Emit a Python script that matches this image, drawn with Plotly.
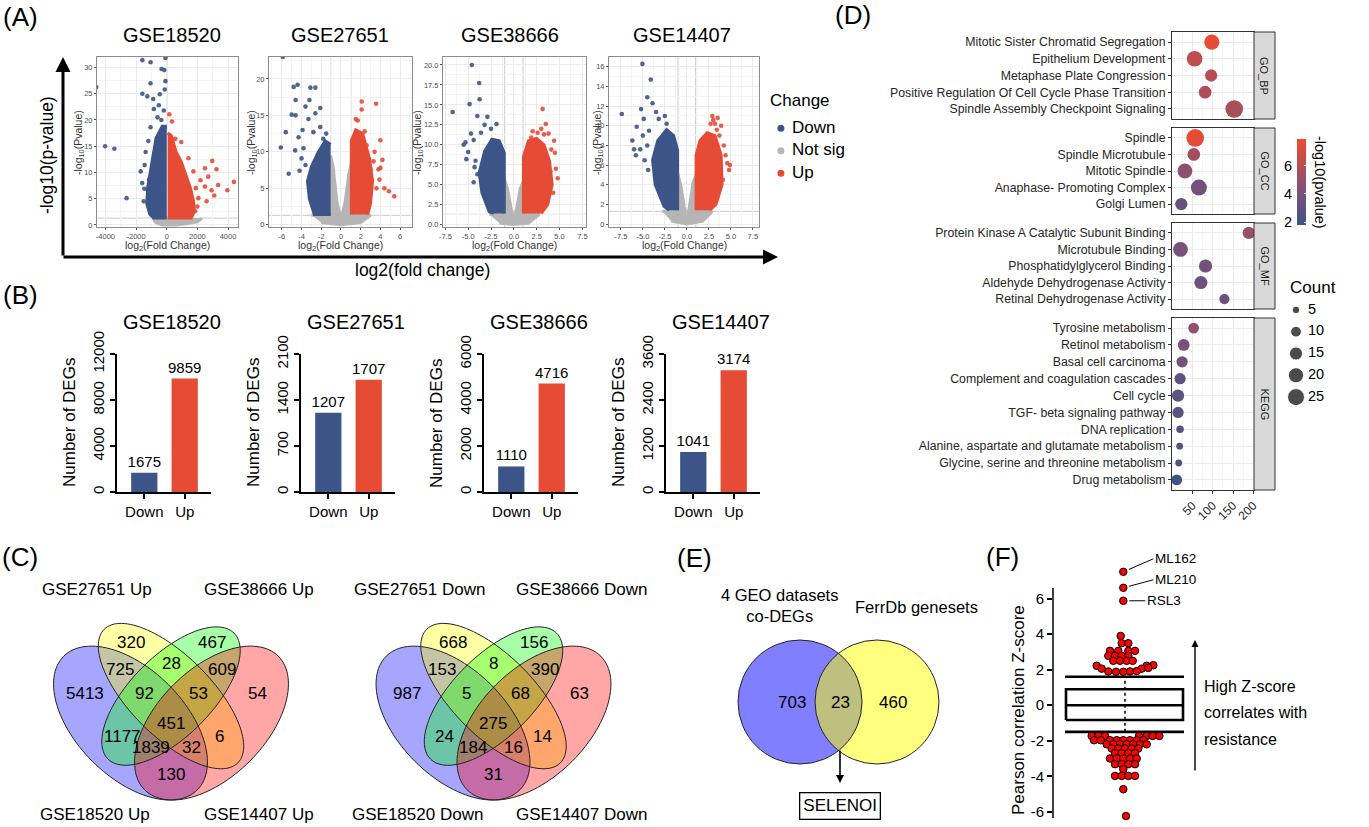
import math
import plotly.graph_objects as go

W, H = 1369, 827
FONT = "Liberation Sans, Arial, Helvetica, sans-serif"
BLUE = "#3C5488"
RED = "#E64B35"
GREY = "#B5B5B5"


def fx(p):
    return p / W


def fy(p):
    return 1 - p / H


# =====================================================================
# DATA
# =====================================================================
DATASETS = ["GSE18520", "GSE27651", "GSE38666", "GSE14407"]
FC_CUTOFF = 1.0
P_CUTOFF = 1.3  # -log10(0.05)

# ---- (A) volcano plots: outlines of the dense clouds + scattered points (log2FC, -log10 p)
GSE18520_NS_CORE = [(-900, 1.3), (-750, 0.5), (-300, 0.0), (600, 0.0), (1300, 0.2), (2000, 0.6), (2300, 1.3)]
GSE18520_DOWN_CORE = [(0, 18.8), (-300, 18.8), (-700, 16.5), (-900, 13.0), (-1050, 10.0), (-1250, 7.0),
                      (-1300, 4.0), (-1100, 2.0), (-850, 1.3), (0, 1.3)]
GSE18520_UP_CORE = [(60, 17.5), (300, 17.0), (600, 14.0), (950, 12.0), (1250, 9.5), (1550, 7.0),
                    (1750, 4.5), (1800, 2.5), (1600, 1.3), (60, 1.3)]
GSE18520_DOWN_PTS = [(-4601, 26.3), (-4020, 15.0), (-3419, 14.5), (-2619, 5.1), (-1591, 31.4), (-1054, 31.0),
                     (-86, 31.8), (-341, 29.7), (-86, 27.4), (-1054, 27.0), (-1591, 25.0), (-1269, 24.5),
                     (-882, 24.0), (-516, 22.8), (-839, 22.1), (-194, 21.8), (-1054, 18.6), (-1376, 13.9),
                     (-1441, 11.4), (-1462, 6.9), (-1698, 10.2), (-1161, 8.6), (-129, 25.8), (-452, 24.9),
                     (-158, 29.5), (-600, 20.5), (-350, 20.0), (-1200, 16.0), (-1600, 8.0), (-1500, 4.5)]
GSE18520_UP_PTS = [(4386, 8.2), (3956, 6.6), (3247, 10.6), (2967, 12.2), (2709, 9.2), (2494, 7.3), (2924, 6.6),
                   (2064, 5.1), (1742, 10.2), (1419, 12.7), (946, 15.8), (344, 19.7), (172, 21.1), (559, 16.4),
                   (1849, 2.6), (3354, 7.6), (2494, 10.8), (2200, 8.5), (2000, 3.5), (2600, 4.5), (1900, 7.0),
                   (3100, 5.6)]

GSE27651_NS_CORE = [(-3.0, 1.3), (-1.05, 1.3), (-1.05, 9.5), (-0.8, 8.0), (-0.4, 3.0), (0.0, 0.8), (0.4, 3.0),
                    (0.8, 7.0), (1.05, 8.5), (1.05, 1.3), (3.0, 1.3), (2.0, 0.3), (0.0, 0.0), (-2.0, 0.3)]
GSE27651_DOWN_CORE = [(-1.05, 11.0), (-1.6, 11.5), (-2.3, 10.0), (-3.0, 8.0), (-3.4, 6.0), (-3.2, 3.5),
                      (-2.7, 1.4), (-1.05, 1.4)]
GSE27651_UP_CORE = [(1.05, 1.4), (1.05, 11.5), (1.5, 13.0), (2.2, 12.5), (2.9, 9.0), (3.2, 6.0), (3.0, 3.0),
                    (2.7, 1.4)]
GSE27651_DOWN_PTS = [(-5.9, 23.0), (-4.8, 18.9), (-4.4, 19.2), (-3.1, 18.8), (-2.6, 18.8), (-4.6, 17.1),
                     (-3.2, 17.1), (-5.0, 15.1), (-3.6, 16.2), (-2.6, 15.3), (-2.1, 16.0), (-6.1, 10.6),
                     (-5.6, 12.7), (-4.65, 10.2), (-4.0, 9.1), (-4.2, 7.4), (-3.6, 8.2), (-2.8, 12.7),
                     (-2.1, 13.4), (-1.8, 11.8), (-4.6, 15.0), (-3.9, 13.0), (-4.3, 12.0), (-3.8, 10.5),
                     (-5.3, 7.0), (-1.5, 12.5), (-3.3, 14.5)]
GSE27651_UP_PTS = [(2.1, 16.9), (2.1, 15.8), (3.56, 16.6), (4.0, 11.6), (4.2, 8.9), (4.0, 7.8), (3.8, 7.6),
                   (4.86, 4.6), (5.4, 3.9), (3.0, 7.6), (3.3, 8.7), (2.4, 12.8), (2.6, 10.9), (1.7, 14.3),
                   (1.5, 14.5), (3.4, 10.0), (3.9, 6.2), (4.4, 5.0), (3.6, 5.0)]

GSE38666_NS_CORE = [(-2.7, 1.3), (-1.05, 1.3), (-1.05, 5.8), (-0.7, 4.5), (-0.3, 2.0), (0.0, 0.8), (0.3, 2.0),
                    (0.7, 4.5), (1.05, 5.5), (1.05, 1.3), (2.8, 1.3), (1.6, 0.2), (0.0, 0.0), (-1.6, 0.2)]
GSE38666_DOWN_CORE = [(-1.05, 1.4), (-1.05, 9.0), (-1.6, 10.5), (-2.4, 10.7), (-3.2, 9.2), (-3.8, 6.5),
                      (-3.5, 4.0), (-2.7, 1.6), (-2.2, 1.4)]
GSE38666_UP_CORE = [(1.05, 1.4), (1.05, 8.5), (1.6, 10.5), (2.5, 10.8), (3.3, 10.0), (3.9, 8.0), (4.2, 5.0),
                    (3.7, 2.5), (3.0, 1.4)]
GSE38666_DOWN_PTS = [(-6.7, 14.1), (-4.6, 20.0), (-3.8, 17.75), (-3.75, 15.7), (-4.85, 15.1), (-5.3, 10.3),
                     (-5.0, 9.1), (-4.7, 11.4), (-4.0, 13.6), (-2.9, 13.5), (-1.9, 12.6), (-4.2, 8.0),
                     (-5.5, 10.0), (-4.4, 10.6), (-3.6, 11.5), (-2.5, 12.0), (-3.2, 12.5), (-4.4, 5.3),
                     (-4.0, 6.3), (-2.65, 2.0), (-5.2, 8.2), (-4.3, 7.2)]
GSE38666_UP_PTS = [(3.15, 14.5), (3.5, 12.6), (4.4, 10.5), (4.1, 9.4), (4.0, 6.7), (2.06, 11.7), (2.6, 11.5),
                   (1.9, 10.9), (3.0, 12.0), (3.8, 11.4), (4.6, 7.0), (4.8, 5.8), (3.3, 11.3), (4.5, 9.0),
                   (4.3, 4.0)]

GSE14407_NS_CORE = [(-2.8, 1.3), (-1.05, 1.3), (-1.05, 5.2), (-0.7, 4.0), (-0.3, 1.8), (0.0, 0.5), (0.3, 1.8),
                    (0.7, 4.2), (1.05, 5.0), (1.05, 1.3), (2.9, 1.3), (1.8, 0.3), (0.0, 0.0), (-1.8, 0.3)]
GSE14407_DOWN_CORE = [(-1.05, 1.4), (-1.05, 7.5), (-1.5, 9.0), (-2.3, 9.6), (-3.3, 8.5), (-3.9, 6.5),
                      (-3.6, 4.0), (-2.6, 1.8), (-2.0, 1.4)]
GSE14407_UP_CORE = [(1.05, 1.4), (1.05, 7.0), (1.5, 8.5), (2.3, 9.3), (3.2, 9.0), (3.9, 7.0), (4.0, 4.0),
                    (3.3, 2.0), (2.6, 1.4)]
GSE14407_DOWN_PTS = [(-7.4, 11.2), (-5.05, 16.3), (-4.1, 14.7), (-4.5, 12.9), (-3.9, 12.3), (-5.2, 11.7),
                     (-3.5, 11.4), (-2.5, 11.0), (-4.9, 10.7), (-5.7, 9.9), (-6.2, 8.5), (-5.8, 7.0),
                     (-2.3, 10.2), (-3.2, 10.7), (-5.0, 9.0), (-4.5, 8.0), (-5.3, 7.6), (-4.3, 9.5),
                     (-6.0, 7.6), (-4.8, 6.5), (-4.4, 5.5)]
GSE14407_UP_PTS = [(2.9, 11.0), (3.5, 10.8), (3.7, 9.0), (4.2, 8.0), (4.6, 6.2), (4.8, 5.5), (4.1, 4.5),
                   (3.9, 10.0), (3.2, 10.2), (4.4, 7.0), (4.9, 6.0), (2.7, 10.2), (3.4, 9.6), (3.0, 10.6)]

CHANGE_LEVELS = ["Down", "Not sig", "Up"]

# ---- (B) number of DEGs
DEG_DOWN = [1675, 1207, 1110, 1041]
DEG_UP = [9859, 1707, 4716, 3174]
DEG_AXIS_MAX = [12000, 2100, 6000, 3600]
DEG_AXIS_STEP = [4000, 700, 2000, 1200]

# ---- (C) four-set Venn diagrams (regions in VennDiagram label order)
VENN_UP_SETS = ["GSE18520 Up", "GSE27651 Up", "GSE38666 Up", "GSE14407 Up"]
VENN_DOWN_SETS = ["GSE18520 Down", "GSE27651 Down", "GSE38666 Down", "GSE14407 Down"]
VENN_UP_COUNTS = [320, 28, 467, 725, 92, 451, 53, 609, 5413, 1177, 1839, 130, 32, 6, 54]
VENN_DOWN_COUNTS = [668, 8, 156, 153, 5, 275, 68, 390, 987, 24, 184, 31, 16, 14, 63]

# ---- (D) enrichment dot plot
GO_BP_TERMS = ["Mitotic Sister Chromatid Segregation", "Epithelium Development", "Metaphase Plate Congression",
               "Positive Regulation Of Cell Cycle Phase Transition", "Spindle Assembly Checkpoint Signaling"]
GO_BP_X = [97.5, 55, 96, 81, 153]
GO_BP_COUNT = [20, 21, 13, 14, 27]
GO_BP_LOGP = [7.7, 6.3, 6.0, 5.8, 5.6]

GO_CC_TERMS = ["Spindle", "Spindle Microtubule", "Mitotic Spindle", "Anaphase- Promoting Complex", "Golgi Lumen"]
GO_CC_X = [56.5, 53, 31, 65.6, 22]
GO_CC_COUNT = [27, 14, 19, 22, 13]
GO_CC_LOGP = [7.6, 5.4, 4.7, 3.8, 3.4]

GO_MF_TERMS = ["Protein Kinase A Catalytic Subunit Binding", "Microtubule Binding", "Phosphatidylglycerol Binding",
               "Aldehyde Dehydrogenase Activity", "Retinal Dehydrogenase Activity"]
GO_MF_X = [189, 20, 82, 70.5, 128.7]
GO_MF_COUNT = [13, 19, 15, 15, 9]
GO_MF_LOGP = [5.0, 4.1, 3.8, 3.7, 3.5]

KEGG_TERMS = ["Tyrosine metabolism", "Retinol metabolism", "Basal cell carcinoma",
              "Complement and coagulation cascades", "Cell cycle", "TGF- beta signaling pathway",
              "DNA replication", "Alanine, aspartate and glutamate metabolism",
              "Glycine, serine and threonine metabolism", "Drug metabolism"]
KEGG_X = [52.5, 28, 24, 19, 14, 14, 19, 18, 15.6, 10.7]
KEGG_COUNT = [10, 12, 11, 11, 13, 11, 5, 4, 4, 10]
KEGG_LOGP = [4.9, 4.1, 3.8, 3.1, 3.0, 2.9, 2.7, 2.6, 2.5, 1.95]

FACET_NAMES = ["GO_BP", "GO_CC", "GO_MF", "KEGG"]
COUNT_LEGEND = [5, 10, 15, 20, 25]
LOGP_TICKS = [2, 4, 6]

# ---- (E) two-set Venn
E_SETS = ["4 GEO datasets<br>co-DEGs", "FerrDb genesets"]
E_COUNTS = [703, 23, 460]
E_GENE = "SELENOI"

# ---- (F) drug-response Z-scores (beeswarm offset, Z)
F_JITTER = [-4.3, -3.3, 3.3, -15, -6.7, 3.3, 10, -16.7, -10, -3.3, 3.3, -11.7, -5, 1.7, 7.7,
            -28.3, 21.7, 28.3, -23.3, 16.7, 23.3, -16.7, -9, -1.7, 5, 11.7,
            -33.3, -26.7, -20, 14, 21.7, 27.7, 34.3,
            -31, -24.3, -15, -8.3, -1.7, 5, 11.7, 18.3,
            -18.3, -11.7, -5, 1.7, 8.3, 15, 21.7,
            -13.3, -6.7, 0, 6.7, 13.3,
            -10, -3.3, 3.3, 10,
            -15, -8.3, -1.7, 5, 11.7,
            -10, -3.3, 3.3, 10,
            -1.7,
            -10, -3.3, 3.3, 10,
            -1.7, 1]
F_Z = [3.9, 3.49, 3.49, 3.06, 3.06, 3.06, 3.06, 2.78, 2.78, 2.78, 2.78, 2.5, 2.5, 2.5, 2.5,
       2.22, 2.22, 2.25, 2.06, 2.06, 2.1, 1.9, 1.88, 1.88, 1.9, 1.92,
       -1.73, -1.73, -1.73, -1.73, -1.73, -1.73, -1.73,
       -1.97, -1.97, -1.97, -1.97, -1.97, -1.97, -1.97, -1.97,
       -2.2, -2.2, -2.2, -2.2, -2.2, -2.2, -2.2,
       -2.44, -2.44, -2.44, -2.44, -2.44,
       -2.7, -2.7, -2.7, -2.7,
       -3.0, -3.0, -3.0, -3.0, -3.0,
       -3.32, -3.32, -3.32, -3.32,
       -3.6,
       -3.98, -3.98, -3.98, -3.98,
       -4.73, -6.24]
F_LABELED = ["ML162", "ML210", "RSL3"]
F_LABELED_Z = [7.51, 6.61, 5.88]
F_LABELED_JITTER = [-1.7, -1.7, -1.7]
F_BOX = dict(whislo=-1.5, q1=-0.83, median=0.0, q3=0.9, whishi=1.6)
F_AXIS_SPAN = [-6.35, 6.6]
F_TICKS = [-6, -4, -2, 0, 2, 4, 6]

# =====================================================================
# FIGURE
# =====================================================================
layout = dict(width=W, height=H, template="none", autosize=False,
              margin=dict(l=0, r=0, t=0, b=0, pad=0, autoexpand=False), paper_bgcolor="white",
              plot_bgcolor="white", showlegend=False, font=dict(family=FONT, color="black"))
traces, shapes, annos = [], [], []


def axkey(n, c):
    return f"{c}axis" if n == 1 else f"{c}axis{n}"


def ref(n, c):
    return c if n == 1 else f"{c}{n}"


def set_axes(n, xdom, ydom, xa, ya):
    xa = dict(xa)
    ya = dict(ya)
    xa.update(domain=[fx(xdom[0]), fx(xdom[1])], anchor=ref(n, "y"), automargin=False)
    ya.update(domain=[fy(ydom[1]), fy(ydom[0])], anchor=ref(n, "x"), automargin=False)
    layout[axkey(n, "x")] = xa
    layout[axkey(n, "y")] = ya


def txt(x, y, s, size, color="black", **kw):
    d = dict(x=fx(x), y=fy(y), xref="paper", yref="paper", text=s, showarrow=False,
             font=dict(size=size, family=FONT, color=color), xanchor="center", yanchor="middle")
    d.update(kw)
    annos.append(d)


def fmt(v, dec):
    return f"{v:.{dec}f}"


def mids(ticks, rng):
    step = ticks[1] - ticks[0]
    vals = [t + step / 2 for t in ticks[:-1]]
    if ticks[0] - step / 2 > rng[0]:
        vals.insert(0, ticks[0] - step / 2)
    if ticks[-1] + step / 2 < rng[1]:
        vals.append(ticks[-1] + step / 2)
    return vals


HIDDEN = dict(visible=False, showgrid=False, zeroline=False, fixedrange=True)

# ---------------- (A) volcano plots ----------------
VOLC = [
    dict(ns=GSE18520_NS_CORE, dc=GSE18520_DOWN_CORE, uc=GSE18520_UP_CORE, dp=GSE18520_DOWN_PTS, up=GSE18520_UP_PTS),
    dict(ns=GSE27651_NS_CORE, dc=GSE27651_DOWN_CORE, uc=GSE27651_UP_CORE, dp=GSE27651_DOWN_PTS, up=GSE27651_UP_PTS),
    dict(ns=GSE38666_NS_CORE, dc=GSE38666_DOWN_CORE, uc=GSE38666_UP_CORE, dp=GSE38666_DOWN_PTS, up=GSE38666_UP_PTS),
    dict(ns=GSE14407_NS_CORE, dc=GSE14407_DOWN_CORE, uc=GSE14407_UP_CORE, dp=GSE14407_DOWN_PTS, up=GSE14407_UP_PTS),
]
VOL_XDOM = [(97, 238), (269, 412), (443, 586), (609, 759)]
VOL_YDOM = (57, 227)
VOL_XRANGE = [[-4550, 4650], [-7.3, 7.2], [-7.76, 7.9], [-8.85, 8.2]]
VOL_YRANGE = [[-0.4, 32], [-0.3, 23], [-0.3, 21], [-0.3, 17]]
VOL_XTICKS = [[-4000, -2000, 0, 2000, 4000], [-6, -4, -2, 0, 2, 4, 6],
              [-7.5, -5, -2.5, 0, 2.5, 5, 7.5], [-7.5, -5, -2.5, 0, 2.5, 5, 7.5]]
VOL_XDEC = [0, 0, 1, 1]
VOL_YTICKS = [[0, 5, 10, 15, 20, 25, 30], [0, 5, 10, 15, 20], [0, 2.5, 5, 7.5, 10, 12.5, 15, 17.5, 20],
              [0, 2, 4, 6, 8, 10, 12, 14, 16]]
VOL_YDEC = [0, 0, 1, 0]
VOL_TITLE_X = [172, 340, 510, 682]
VOL_YTITLE_X = [79, 252, 418, 598]

for i, v in enumerate(VOLC):
    n = i + 1
    xr, yr = VOL_XRANGE[i], VOL_YRANGE[i]
    xt, yt = VOL_XTICKS[i], VOL_YTICKS[i]
    common = dict(showgrid=True, gridcolor="#EBEBEB", gridwidth=1, zeroline=False, showline=True,
                  mirror=True, linecolor="#8C8C8C", linewidth=1, ticks="outside", ticklen=2,
                  tickcolor="#555555", tickfont=dict(size=7.5, color="#4D4D4D", family=FONT), fixedrange=True)
    xa = dict(common, range=xr, tickvals=xt, ticktext=[fmt(t, VOL_XDEC[i]) for t in xt],
              minor=dict(tickvals=mids(xt, xr), showgrid=True, gridcolor="#F4F4F4", gridwidth=0.6))
    ya = dict(common, range=yr, tickvals=yt, ticktext=[fmt(t, VOL_YDEC[i]) for t in yt],
              minor=dict(tickvals=mids(yt, yr), showgrid=True, gridcolor="#F4F4F4", gridwidth=0.6))
    set_axes(n, VOL_XDOM[i], VOL_YDOM, xa, ya)
    xr_, yr_ = ref(n, "x"), ref(n, "y")
    for core, col in ((v["ns"], GREY), (v["dc"], BLUE), (v["uc"], RED)):
        traces.append(go.Scatter(x=[p[0] for p in core], y=[p[1] for p in core], mode="lines",
                                 fill="toself", fillcolor=col, line=dict(color=col, width=3),
                                 xaxis=xr_, yaxis=yr_, hoverinfo="skip"))
    for pts, col in ((v["dp"], BLUE), (v["up"], RED)):
        traces.append(go.Scatter(x=[p[0] for p in pts], y=[p[1] for p in pts], mode="markers",
                                 marker=dict(size=4.6, color=col, opacity=0.9), xaxis=xr_, yaxis=yr_,
                                 hoverinfo="skip"))
    for xv in (-FC_CUTOFF, FC_CUTOFF):
        shapes.append(dict(type="line", xref=xr_, yref=f"{yr_} domain", x0=xv, x1=xv, y0=0, y1=1,
                           line=dict(color="#BDBDBD", width=0.8), layer="below"))
    shapes.append(dict(type="line", xref=f"{xr_} domain", yref=yr_, x0=0, x1=1, y0=P_CUTOFF, y1=P_CUTOFF,
                       line=dict(color="#BDBDBD", width=0.8), layer="below"))
    txt(VOL_TITLE_X[i], 35, DATASETS[i], 20)
    cx = (VOL_XDOM[i][0] + VOL_XDOM[i][1]) / 2
    txt(cx, 246, "log<sub>2</sub>(Fold Change)", 10.5, color="#333333")
    txt(VOL_YTITLE_X[i], 143, "-log<sub>10</sub>(Pvalue)", 10.5, color="#333333", textangle=-90)

# Change legend (axis 18)
set_axes(18, (774, 850), (117, 184.5), dict(HIDDEN, range=[-1, 10]),
         dict(HIDDEN, type="category", categoryorder="array", categoryarray=CHANGE_LEVELS, range=[2.5, -0.5]))
traces.append(go.Scatter(x=[0] * 3, y=CHANGE_LEVELS, mode="markers",
                         marker=dict(size=7, color=[BLUE, GREY, RED]), xaxis="x18", yaxis="y18",
                         hoverinfo="skip"))
traces.append(go.Scatter(x=[1.6] * 3, y=CHANGE_LEVELS, mode="text", text=CHANGE_LEVELS,
                         textposition="middle right", textfont=dict(size=17, family=FONT, color="black"),
                         xaxis="x18", yaxis="y18", hoverinfo="skip", cliponaxis=False))
txt(768, 101, "Change", 17, xanchor="left")

# Big axes arrows of panel A
annos.append(dict(x=fx(63), y=fy(57), xref="paper", yref="paper", ax=0, ay=200, axref="pixel", ayref="pixel",
                  showarrow=True, arrowhead=2, arrowsize=1, arrowwidth=3, arrowcolor="black", text=""))
annos.append(dict(x=fx(778), y=fy(257), xref="paper", yref="paper", ax=-716, ay=0, axref="pixel",
                  ayref="pixel", showarrow=True, arrowhead=2, arrowsize=1, arrowwidth=3, arrowcolor="black",
                  text=""))
txt(47, 155, "-log10(p-value)", 17.5, textangle=-90)
txt(422, 270, "log2(fold change)", 17.5)

# ---------------- (B) bar charts ----------------
BAR_X0 = [117, 301, 484, 666]
for i in range(4):
    n = 5 + i
    ymax, step = DEG_AXIS_MAX[i], DEG_AXIS_STEP[i]
    yt = list(range(0, ymax + 1, step))
    xa = dict(type="category", range=[-0.675, 1.65], showline=True, linecolor="black", linewidth=2,
              ticks="outside", ticklen=5, tickwidth=1.5, tickcolor="black",
              tickfont=dict(size=15, family=FONT, color="black"), showgrid=False, zeroline=False,
              fixedrange=True)
    ya = dict(range=[0, ymax], tickvals=yt, ticktext=[str(t) for t in yt], tickangle=-90, showline=True,
              linecolor="black", linewidth=2, ticks="outside", ticklen=5, tickwidth=1.5, tickcolor="black",
              tickfont=dict(size=15, family=FONT, color="black"), showgrid=False, zeroline=False,
              fixedrange=True)
    set_axes(n, (BAR_X0[i], BAR_X0[i] + 94), (354, 492), xa, ya)
    vals = [DEG_DOWN[i], DEG_UP[i]]
    traces.append(go.Bar(x=["Down", "Up"], y=vals, marker=dict(color=[BLUE, RED], line=dict(width=0)),
                         width=0.65, text=[str(v) for v in vals], textposition="outside",
                         constraintext="none",
                         textfont=dict(size=15, family=FONT, color="black"), cliponaxis=False,
                         xaxis=ref(n, "x"), yaxis=ref(n, "y"), hoverinfo="skip"))
    txt(BAR_X0[i] + 55, 322, DATASETS[i], 20)
    txt(BAR_X0[i] - 47, 423, "Number of DEGs", 17, textangle=-90)

# ---------------- (C) Venn diagrams ----------------
VENN_ELLIPSES = [(0.35, 0.47, 0.35, 0.20, 135), (0.50, 0.57, 0.35, 0.15, 135),
                 (0.50, 0.57, 0.33, 0.15, 45), (0.65, 0.47, 0.35, 0.20, 45)]
VENN_FILLS = ["rgba(0,0,255,0.35)", "rgba(255,255,0,0.35)", "rgba(0,255,0,0.35)", "rgba(255,0,0,0.35)"]
VENN_LABEL_POS = [(0.35, 0.77), (0.50, 0.69), (0.65, 0.77), (0.31, 0.67), (0.40, 0.58), (0.50, 0.47),
                  (0.60, 0.58), (0.69, 0.67), (0.18, 0.58), (0.32, 0.42), (0.425, 0.38), (0.50, 0.28),
                  (0.575, 0.38), (0.68, 0.42), (0.82, 0.58)]
VENN_CAT_POS = [(0.22, 0.13), (0.225, 0.963), (0.826, 0.963), (0.826, 0.13)]


def ellipse_path(cx, cy, a, b, rot, npts=120):
    th = math.radians(rot)
    pts = []
    for k in range(npts):
        t = 2 * math.pi * k / npts
        x = cx + a * math.cos(t) * math.cos(th) - b * math.sin(t) * math.sin(th)
        y = cy + a * math.cos(t) * math.sin(th) + b * math.sin(t) * math.cos(th)
        pts.append(f"{x:.4f},{y:.4f}")
    return "M " + " L ".join(pts) + " Z"


for j, (sets, counts, x0) in enumerate(((VENN_UP_SETS, VENN_UP_COUNTS, 36),
                                          (VENN_DOWN_SETS, VENN_DOWN_COUNTS, 358.5))):
    n = 9 + j
    set_axes(n, (x0, x0 + 270), (580, 827), dict(HIDDEN, range=[0, 1]), dict(HIDDEN, range=[0.085, 1]))
    xr_, yr_ = ref(n, "x"), ref(n, "y")
    for (cx, cy, a, b, rot), col in zip(VENN_ELLIPSES, VENN_FILLS):
        shapes.append(dict(type="path", xref=xr_, yref=yr_, path=ellipse_path(cx, cy, a, b, rot),
                           fillcolor=col, line=dict(width=0)))
    for (cx, cy, a, b, rot) in VENN_ELLIPSES:
        shapes.append(dict(type="path", xref=xr_, yref=yr_, path=ellipse_path(cx, cy, a, b, rot),
                           fillcolor="rgba(0,0,0,0)", line=dict(color="#222222", width=1)))
    for (ux, uy), c in zip(VENN_LABEL_POS, counts):
        annos.append(dict(x=ux, y=uy, xref=xr_, yref=yr_, text=str(c), showarrow=False,
                          font=dict(size=17, family=FONT, color="black")))
    for (ux, uy), s in zip(VENN_CAT_POS, sets):
        annos.append(dict(x=ux, y=uy, xref=xr_, yref=yr_, text=s, showarrow=False,
                          font=dict(size=17, family=FONT, color="black")))

# ---------------- (E) two-set Venn ----------------
set_axes(11, (700, 980), (630, 775), dict(HIDDEN, range=[-138.5, 141.5]), dict(HIDDEN, range=[-73, 72]))
E_R = 62
E_CX = [-38.5, 38.5]
for cx, col in zip(E_CX, ["rgba(0,0,255,0.5)", "rgba(255,255,0,0.5)"]):
    shapes.append(dict(type="circle", xref="x11", yref="y11", x0=cx - E_R, x1=cx + E_R, y0=-E_R, y1=E_R,
                       fillcolor=col, line=dict(width=0)))
for cx in E_CX:
    shapes.append(dict(type="circle", xref="x11", yref="y11", x0=cx - E_R, x1=cx + E_R, y0=-E_R, y1=E_R,
                       fillcolor="rgba(0,0,0,0)", line=dict(color="#222222", width=1)))
for xv, c in zip([-46.5, 1.5, 54.5], E_COUNTS):
    annos.append(dict(x=xv, y=0, xref="x11", yref="y11", text=str(c), showarrow=False,
                      font=dict(size=17, family=FONT, color="black")))
txt(779, 605, E_SETS[0], 16.5)
txt(916, 607, E_SETS[1], 16.5)
annos.append(dict(x=fx(840), y=fy(783), xref="paper", yref="paper", ax=0, ay=-34, axref="pixel", ayref="pixel",
                  showarrow=True, arrowhead=2, arrowsize=1, arrowwidth=1.6, arrowcolor="black", text=""))
txt(840, 806, E_GENE, 17, bordercolor="black", borderwidth=1.3, borderpad=3)

# ---------------- (F) Z-score box + beeswarm ----------------
F_PX_PER_UNIT = 17.76
F_ZERO_PX = 705.2
F_YMAX = 7.9
F_TOP_PX = F_ZERO_PX - F_YMAX * F_PX_PER_UNIT
set_axes(12, (1053, 1195), (F_TOP_PX, 818), dict(HIDDEN, range=[-72, 70]),
         dict(range=[F_AXIS_SPAN[0], F_YMAX], tickvals=F_TICKS, ticktext=[str(t) for t in F_TICKS],
              showline=False, ticks="outside", ticklen=5, tickwidth=1.5, tickcolor="black",
              tickfont=dict(size=15, family=FONT, color="black"), showgrid=False, zeroline=False,
              fixedrange=True))
shapes.append(dict(type="line", xref="x12 domain", yref="y12", x0=0, x1=0, y0=F_AXIS_SPAN[0],
                   y1=F_AXIS_SPAN[1], line=dict(color="black", width=1.5)))
BOX_L, BOX_R = -59, 58
traces.append(go.Scatter(x=[0, 0], y=[F_BOX["whislo"], F_BOX["whishi"]], mode="lines",
                         line=dict(color="black", width=1.5, dash="dot"), xaxis="x12", yaxis="y12",
                         hoverinfo="skip"))
traces.append(go.Scatter(x=[BOX_L, BOX_R, BOX_R, BOX_L, BOX_L],
                         y=[F_BOX["q1"], F_BOX["q1"], F_BOX["q3"], F_BOX["q3"], F_BOX["q1"]], mode="lines",
                         line=dict(color="black", width=2.6), xaxis="x12", yaxis="y12", hoverinfo="skip"))
for key in ("median", "whislo", "whishi"):
    traces.append(go.Scatter(x=[BOX_L - 1, BOX_R + 1], y=[F_BOX[key]] * 2, mode="lines",
                             line=dict(color="black", width=2.6), xaxis="x12", yaxis="y12", hoverinfo="skip"))
traces.append(go.Scatter(x=F_JITTER + F_LABELED_JITTER, y=F_Z + F_LABELED_Z, mode="markers",
                         marker=dict(size=7.5, color="#FF0000", line=dict(color="black", width=1)),
                         xaxis="x12", yaxis="y12", cliponaxis=False, hoverinfo="skip"))
for name, z, jx, dx, dy in zip(F_LABELED, F_LABELED_Z, F_LABELED_JITTER, [30, 30, 22], [-13, -8, 0]):
    annos.append(dict(x=jx, y=z, xref="x12", yref="y12", text=name, showarrow=True, arrowhead=0,
                      arrowwidth=1, arrowcolor="black", ax=dx, ay=dy, axref="pixel", ayref="pixel",
                      standoff=6, xanchor="left", yanchor="middle",
                      font=dict(size=13.5, family=FONT, color="black")))
txt(1018, 710, "Pearson correlation Z-score", 17, textangle=-90)
annos.append(dict(x=fx(1195), y=fy(640), xref="paper", yref="paper", ax=0, ay=132, axref="pixel",
                  ayref="pixel", showarrow=True, arrowhead=2, arrowsize=1, arrowwidth=1.4, arrowcolor="black",
                  text=""))
for k, line in enumerate(["High Z-score", "correlates with", "resistance"]):
    txt(1202, 686 + 26.5 * k, line, 16, xanchor="left")

# ---------------- (D) enrichment dot plot ----------------
FACETS = [(GO_BP_TERMS, GO_BP_X, GO_BP_COUNT, GO_BP_LOGP, (32, 119)),
          (GO_CC_TERMS, GO_CC_X, GO_CC_COUNT, GO_CC_LOGP, (128, 214)),
          (GO_MF_TERMS, GO_MF_X, GO_MF_COUNT, GO_MF_LOGP, (223, 309)),
          (KEGG_TERMS, KEGG_X, KEGG_COUNT, KEGG_LOGP, (318, 490))]
CMIN, CMAX = 1.8, 7.9
CSCALE = [[0, "#3C5488"], [0.4, "#7E5178"], [0.7, "#B84E52"], [1, "#EE4B32"]]
CB_TOP, CB_BOT = 139, 225


def size_of(c):
    return 3.4 * math.sqrt(c)


for k, (terms, xs, counts, logp, ydom) in enumerate(FACETS):
    n = 13 + k
    nt = len(terms)
    last = k == len(FACETS) - 1
    xa = dict(range=[-1, 202], tickvals=[50, 100, 150, 200], ticktext=["50", "100", "150", "200"],
              showticklabels=last, tickangle=-45, ticks="outside" if last else "", ticklen=3,
              tickcolor="#333333", tickfont=dict(size=12, family=FONT, color="#262626"), showgrid=True,
              gridcolor="#EBEBEB", gridwidth=1, zeroline=False, showline=True, mirror=True,
              linecolor="#333333", linewidth=1, fixedrange=True,
              minor=dict(tickvals=[25, 75, 125, 175], showgrid=True, gridcolor="#F5F5F5", gridwidth=0.6))
    ya = dict(type="category", categoryorder="array", categoryarray=terms, range=[nt - 0.4, -0.6],
              ticks="outside", ticklen=3, tickcolor="#333333",
              tickfont=dict(size=12.3, family=FONT, color="#262626"), showgrid=True, gridcolor="#EBEBEB",
              gridwidth=1, zeroline=False, showline=True, mirror=True, linecolor="#333333", linewidth=1,
              fixedrange=True)
    set_axes(n, (1172, 1254), ydom, xa, ya)
    marker = dict(size=[size_of(c) for c in counts], color=logp, colorscale=CSCALE, cmin=CMIN, cmax=CMAX,
                  line=dict(width=0), opacity=1)
    if k == 0:
        marker.update(showscale=True,
                      colorbar=dict(x=fx(1297), xanchor="left", xpad=0, ypad=0, y=fy((CB_TOP + CB_BOT) / 2),
                                    yanchor="middle", len=(CB_BOT - CB_TOP) / H, lenmode="fraction",
                                    thickness=9, thicknessmode="pixels", outlinewidth=0, showticklabels=False,
                                    ticks="inside", tickvals=LOGP_TICKS, tickcolor="white", ticklen=2))
    traces.append(go.Scatter(x=xs, y=terms, mode="markers", marker=marker, xaxis=ref(n, "x"),
                             yaxis=ref(n, "y"), hoverinfo="skip"))
    shapes.append(dict(type="rect", xref="paper", yref="paper", x0=fx(1254), x1=fx(1275), y0=fy(ydom[1]),
                       y1=fy(ydom[0]), fillcolor="#D9D9D9", line=dict(color="#333333", width=1)))
    txt(1264.5, (ydom[0] + ydom[1]) / 2, FACET_NAMES[k], 11, color="#1A1A1A", textangle=90)

for t in LOGP_TICKS:
    yy = CB_BOT - (t - CMIN) / (CMAX - CMIN) * (CB_BOT - CB_TOP)
    txt(1288, yy, str(t), 14.5)
txt(1320, 182, "-log10(pvalue)", 14.5, textangle=90)

# Count legend (axis 17)
CNT_LABELS = [str(c) for c in COUNT_LEGEND]
set_axes(17, (1286, 1340), (299, 408), dict(HIDDEN, range=[-1, 4.4]),
         dict(HIDDEN, type="category", categoryorder="array", categoryarray=CNT_LABELS, range=[4.5, -0.5]))
traces.append(go.Scatter(x=[0] * 5, y=CNT_LABELS, mode="markers",
                         marker=dict(size=[size_of(c) for c in COUNT_LEGEND], color="black"),
                         xaxis="x17", yaxis="y17", hoverinfo="skip", cliponaxis=False))
traces.append(go.Scatter(x=[1.2] * 5, y=CNT_LABELS, mode="text", text=CNT_LABELS, textposition="middle right",
                         textfont=dict(size=14.5, family=FONT, color="black"), xaxis="x17", yaxis="y17",
                         hoverinfo="skip", cliponaxis=False))
txt(1288, 287, "Count", 17, xanchor="left")

# ---------------- panel letters ----------------
for letter, x, y in (("(A)", 20, 17), ("(B)", 20, 295), ("(C)", 20, 557), ("(D)", 853, 15),
                     ("(E)", 694, 558), ("(F)", 1002, 557)):
    txt(x, y, letter, 26)

layout["shapes"] = shapes
layout["annotations"] = annos
fig = go.Figure(data=traces, layout=layout)
fig.write_html("out.html", config={"displayModeBar": False},
               post_script="document.body.style.margin='0';document.body.style.overflow='hidden';")
